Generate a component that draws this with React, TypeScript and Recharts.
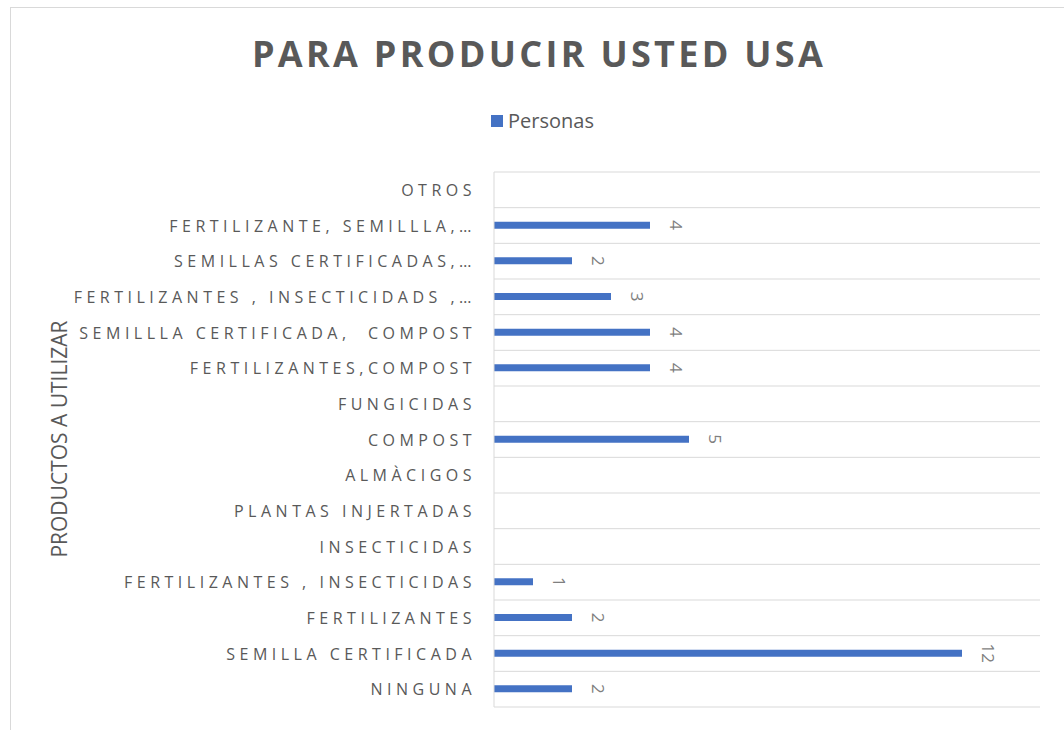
import React from 'react';
import { BarChart, Bar, XAxis, YAxis, CartesianGrid, LabelList } from 'recharts';

// categories listed top to bottom as they appear on the chart
const categories = [
  'OTROS',
  'FERTILIZANTE, SEMILLLA,…',
  'SEMILLAS CERTIFICADAS,…',
  'FERTILIZANTES , INSECTICIDADS ,…',
  'SEMILLLA CERTIFICADA,  COMPOST',
  'FERTILIZANTES,COMPOST',
  'FUNGICIDAS',
  'COMPOST',
  'ALMÀCIGOS',
  'PLANTAS INJERTADAS',
  'INSECTICIDAS',
  'FERTILIZANTES , INSECTICIDAS',
  'FERTILIZANTES',
  'SEMILLA CERTIFICADA',
  'NINGUNA',
];

const personas: (number | null)[] = [null, 4, 2, 3, 4, 4, null, 5, null, null, null, 1, 2, 12, 2];

const xTicks = [0, 14];

const data = categories.map((name, i) => ({ name, personas: personas[i] }));

const GRAY = '#595959';
const BLUE = '#4472C4';
const FONT = '"Open Sans", sans-serif';

const CategoryTick = (props: any) => {
  const { x, y, payload } = props;
  return (
    <text
      x={x}
      y={y}
      textAnchor="end"
      dominantBaseline="central"
      fill={GRAY}
      fontSize={16}
      fontFamily={FONT}
      letterSpacing={4.5}
      xmlSpace="preserve"
      style={{ whiteSpace: 'pre' }}
    >
      {payload.value}
    </text>
  );
};

const RotatedLabel = (props: any) => {
  const { x, y, width, height, value } = props;
  if (value === null || value === undefined) return null;
  const cx = x + width + 26;
  const cy = y + height / 2;
  return (
    <text
      x={cx}
      y={cy}
      transform={`rotate(90, ${cx}, ${cy})`}
      textAnchor="middle"
      dominantBaseline="central"
      fill="#7f7f7f"
      fontSize={17}
      fontFamily={FONT}
    >
      {value}
    </text>
  );
};

export default function App() {
  return (
    <div style={{ position: 'absolute', left: 0, top: 0, width: 1064, height: 730, background: '#fff', fontFamily: FONT, overflow: 'hidden' }}>
      <div style={{ position: 'absolute', left: 10, top: 7, width: 1070, height: 740, border: '1px solid #d9d9d9' }} />
      <div
        style={{
          position: 'absolute', left: 0, top: 29, width: 1078, textAlign: 'center',
          fontSize: 36, fontWeight: 700, color: GRAY, letterSpacing: 3.3,
        }}
      >
        PARA PRODUCIR USTED USA
      </div>
      <div
        style={{
          position: 'absolute', left: 491, top: 107, display: 'flex', alignItems: 'center',
          fontSize: 20, color: GRAY, whiteSpace: 'nowrap',
        }}
      >
        <span style={{ display: 'inline-block', width: 12, height: 12, background: BLUE, marginRight: 5 }} />
        Personas
      </div>
      <div
        style={{
          position: 'absolute', left: 59, top: 439, transform: 'translate(-50%, -50%) rotate(-90deg)',
          fontSize: 21, color: GRAY, whiteSpace: 'nowrap',
        }}
      >
        PRODUCTOS A UTILIZAR
      </div>
      <BarChart
        width={1064}
        height={730}
        data={data}
        layout="vertical"
        margin={{ top: 172, right: 24, bottom: 23, left: 0 }}
        style={{ position: 'absolute', left: 0, top: 0 }}
      >
        <CartesianGrid
          vertical={false}
          stroke="#d9d9d9"
          horizontalCoordinatesGenerator={({ offset }: any) =>
            categories.map((_, i) => offset.top + (i * offset.height) / categories.length).concat(offset.top + offset.height)
          }
        />
        <XAxis type="number" domain={[0, 14]} ticks={xTicks} hide />
        <YAxis
          type="category"
          dataKey="name"
          width={494}
          axisLine={{ stroke: '#d9d9d9' }}
          tickLine={false}
          tickSize={0}
          tickMargin={18}
          interval={0}
          tick={<CategoryTick />}
        />
        <Bar dataKey="personas" name="Personas" fill={BLUE} barSize={7} isAnimationActive={false}>
          <LabelList dataKey="personas" content={<RotatedLabel />} />
        </Bar>
      </BarChart>
    </div>
  );
}
